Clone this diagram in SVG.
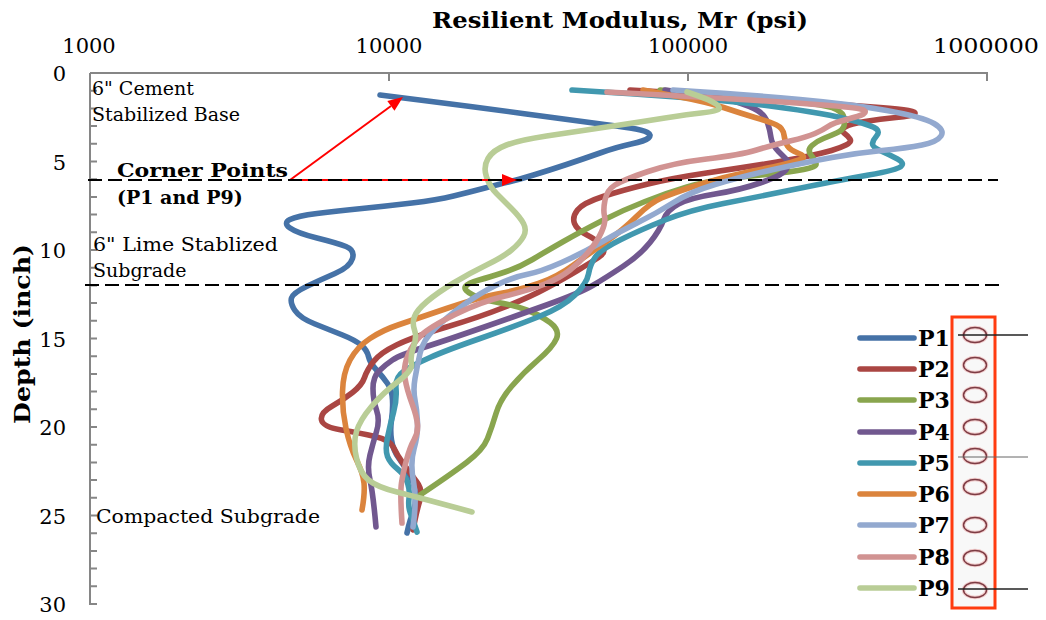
<svg xmlns="http://www.w3.org/2000/svg" width="1046" height="620" viewBox="0 0 1046 620">
<defs>
<style>
.ax{stroke:#868686;stroke-width:2;fill:none}
.tk{font-family:"DejaVu Serif","Liberation Serif",serif;font-size:21px;fill:#000}
.an{font-family:"DejaVu Serif","Liberation Serif",serif;font-size:19px;fill:#000}
.bd{font-family:"DejaVu Serif","Liberation Serif",serif;font-weight:bold;fill:#000}
.c{fill:none;stroke-width:5.6;stroke-linecap:round;stroke-linejoin:round}
.dash{stroke:#000;stroke-width:2;stroke-dasharray:14 6;fill:none}
.red{stroke:#ff0000;stroke-width:2;fill:none}
.head{fill:#ff0000}
.ell{fill:none;stroke:#7d3c44;stroke-width:1.4}
.glow{fill:none;stroke:#f0caca;stroke-width:3.5}
</style>
</defs>
<rect width="1046" height="620" fill="#fff"/>

<g id="axes">
<path class="ax" d="M90,73 H987 V81 M389,73 V81 M688,73 V81"/>
<path class="ax" d="M90,73 V604 H97"/>
<path class="ax" d="M90,73 H97 M90,90.7 H97 M90,108.4 H97 M90,126.1 H97 M90,143.8 H97 M90,161.5 H97 M90,179.2 H97 M90,196.9 H97 M90,214.6 H97 M90,232.3 H97 M90,250 H97 M90,267.7 H97 M90,285.4 H97 M90,303.1 H97 M90,320.8 H97 M90,338.5 H97 M90,356.2 H97 M90,373.9 H97 M90,391.6 H97 M90,409.3 H97 M90,427 H97 M90,444.7 H97 M90,462.4 H97 M90,480.1 H97 M90,497.8 H97 M90,515.5 H97 M90,533.2 H97 M90,550.9 H97 M90,568.6 H97 M90,586.3 H97"/>
<text class="tk" x="89" y="53" text-anchor="middle">1000</text>
<text class="tk" x="389" y="53" text-anchor="middle">10000</text>
<text class="tk" x="688" y="53" text-anchor="middle">100000</text>
<text class="tk" x="986" y="53" text-anchor="middle" textLength="106" lengthAdjust="spacingAndGlyphs">1000000</text>
<text class="tk" x="66" y="81" text-anchor="end">0</text>
<text class="tk" x="66" y="170" text-anchor="end">5</text>
<text class="tk" x="66" y="258" text-anchor="end">10</text>
<text class="tk" x="66" y="347" text-anchor="end">15</text>
<text class="tk" x="66" y="435" text-anchor="end">20</text>
<text class="tk" x="66" y="524" text-anchor="end">25</text>
<text class="tk" x="66" y="612" text-anchor="end">30</text>
<text class="bd" x="620" y="28" font-size="22.5" text-anchor="middle" textLength="376" lengthAdjust="spacingAndGlyphs">Resilient Modulus, Mr (psi)</text>
<text class="bd" transform="translate(30,334) rotate(-90)" x="0" y="0" font-size="22" text-anchor="middle" textLength="180" lengthAdjust="spacingAndGlyphs">Depth (inch)</text>
</g>

<g id="annotations">
<text class="an" x="92" y="95">6" Cement</text>
<text class="an" x="92" y="121">Stabilized Base</text>
<text class="an" x="93" y="251" textLength="185" lengthAdjust="spacingAndGlyphs">6" Lime Stablized</text>
<text class="an" x="93" y="277">Subgrade</text>
<text class="an" x="96" y="523" textLength="224" lengthAdjust="spacingAndGlyphs">Compacted Subgrade</text>
<text class="bd" x="117" y="177" font-size="19" textLength="171" lengthAdjust="spacingAndGlyphs">Corner Points</text>
<text class="bd" x="117" y="204" font-size="19">(P1 and P9)</text>
</g>

<g id="curves">
<path id="P1" class="c" stroke="#4572A7" d="M380,95 L427.5,101 Q475,107 522.5,113.5 Q570,120 593.5,123 Q617,126 630,128 Q643,130 647.5,132.5 Q652,135 648.5,138 Q645,141 631,144 Q617,147 600,153 Q583,159 566.5,164.5 Q550,170 533.5,175 Q517,180 508.5,182 Q500,184 485,188 Q470,192 453.5,196 Q437,200 412,203 Q387,206 362,208.5 Q337,211 317,213.5 Q297,216 290,219.5 Q283,223 290,228 Q297,233 317,238 Q337,243 346,246.5 Q355,250 352.5,258.5 Q350,267 335,273.5 Q320,280 306.5,286.5 Q293,293 291.5,298 Q290,303 295,310.5 Q300,318 315,324 Q330,330 342.5,335 Q355,340 361,345 Q367,350 368.5,356.5 Q370,363 376.5,370 Q383,377 387.5,383.5 Q392,390 392.5,400 Q393,410 391.5,420 Q390,430 391.5,440 Q393,450 399,458.5 Q405,467 410,476 Q415,485 415.5,495 Q416,505 413,512.5 Q410,520 408.5,526.5 L407,533"/>
<path id="P2" class="c" stroke="#AA4643" d="M630,90 L665,92 Q700,94 740,97 Q780,100 820,103 Q860,106 880,107.5 Q900,109 908.5,110.5 Q917,112 914.5,114 Q912,116 896,117.5 Q880,119 865,121.5 Q850,124 845,127 Q840,130 844,133 Q848,136 850,139 Q852,142 846,145 Q840,148 831.5,150.5 Q823,153 806.5,156.5 Q790,160 765,164 Q740,168 706.5,173 Q673,178 648,184 Q623,190 603,196.5 Q583,203 577.5,210 Q572,217 574.5,223.5 Q577,230 587,235 Q597,240 602,246 Q607,252 598.5,257.5 Q590,263 577.5,270.5 Q565,278 547.5,287.5 Q530,297 505,307 Q480,317 446.5,327 Q413,337 396.5,345 Q380,353 373.5,361.5 Q367,370 364.5,377.5 Q362,385 352.5,392.5 Q343,400 331.5,406.5 Q320,413 321.5,420 Q323,427 341.5,430 Q360,433 375,436.5 Q390,440 393.5,447.5 Q397,455 403.5,464 Q410,473 416.5,481.5 Q423,490 420,500 Q417,510 415,520 L413,530"/>
<path id="P3" class="c" stroke="#89A54E" d="M660,90 L690,92.5 Q720,95 755,98 Q790,101 810,103.5 Q830,106 836.5,109.5 Q843,113 844,117.5 Q845,122 844,126 Q843,130 836.5,133 Q830,136 823.5,138.5 Q817,141 812,145.5 Q807,150 811,155 Q815,160 816,163.5 Q817,167 803.5,169.5 Q790,172 770,174 Q750,176 728.5,178.5 Q707,181 687,187 Q667,193 645,201.5 Q623,210 601.5,221 Q580,232 562.5,242 Q545,252 532.5,259.5 Q520,267 505,272 Q490,277 479,280 Q468,283 465.5,286.5 Q463,290 473,295 Q483,300 498,302.5 Q513,305 526.5,310 Q540,315 550,322.5 Q560,330 556.5,338.5 Q553,347 538,360 Q523,373 511.5,386.5 Q500,400 496,413.5 Q492,427 487.5,438.5 Q483,450 466.5,462.5 Q450,475 417,497"/>
<path id="P4" class="c" stroke="#71588F" d="M665,90 L692.5,93.5 Q720,97 735,101.5 Q750,106 757.5,110.5 Q765,115 767.5,122.5 Q770,130 771,137.5 Q772,145 778.5,151.5 Q785,158 787.5,160.5 Q790,163 786.5,169 Q783,175 761.5,182.5 Q740,190 715,194 Q690,198 678.5,204 Q667,210 663.5,220 Q660,230 650,242.5 Q640,255 623.5,266 Q607,277 593.5,285 Q580,293 546.5,305 Q513,317 480,328.5 Q447,340 423.5,347.5 Q400,355 392.5,360 Q385,365 379,371 Q373,377 373,388.5 Q373,400 376.5,410 Q380,420 376.5,431.5 Q373,443 370,455 Q367,467 370,480 Q373,493 376,527"/>
<path id="P5" class="c" stroke="#4198AF" d="M572,90 L611,92.5 Q650,95 695,98.5 Q740,102 770,106 Q800,110 820,113.5 Q840,117 856.5,121.5 Q873,126 876.5,129 Q880,132 876.5,136 Q873,140 872.5,143.5 Q872,147 881,151 Q890,155 897.5,159 Q905,163 901,166.5 Q897,170 868.5,175 Q840,180 798.5,188.5 Q757,197 723.5,203.5 Q690,210 665,220 Q640,230 620,240 Q600,250 595,257.5 Q590,265 588.5,274 Q587,283 575,295 Q563,307 538,317 Q513,327 480,338.5 Q447,350 430,357.5 Q413,365 404,371 Q395,377 396,388.5 Q397,400 393.5,412.5 Q390,425 387.5,437.5 Q385,450 387.5,456.5 Q390,463 397.5,469 Q405,475 407.5,482.5 Q410,490 409,498.5 Q408,507 410.5,513.5 Q413,520 417,532"/>
<path id="P6" class="c" stroke="#DB843D" d="M643,90 L675,96 Q707,102 723.5,107.5 Q740,113 755,117.5 Q770,122 776.5,125 Q783,128 784,135 Q785,142 787.5,146 Q790,150 799,153.5 Q808,157 799,160 Q790,163 781.5,165 Q773,167 748,172 Q723,177 698,185 Q673,193 661.5,198 Q650,203 636.5,216.5 Q623,230 606.5,241.5 Q590,253 573.5,265 Q557,277 538.5,283.5 Q520,290 500,293.5 Q480,297 446.5,308.5 Q413,320 398,325 Q383,330 370,338.5 Q357,347 350,360 Q343,373 342.5,391.5 Q342,410 346,428.5 Q350,447 356.5,460 Q363,473 364,483 Q365,493 362,510"/>
<path id="P7" class="c" stroke="#93A9CF" d="M673,90 L711.5,92.5 Q750,95 800,99.5 Q850,104 886.5,110.5 Q923,117 934,123.5 Q945,130 941,136 Q937,142 922,145 Q907,148 882,150.5 Q857,153 832,157.5 Q807,162 773.5,169.5 Q740,177 715,184.5 Q690,192 673.5,202.5 Q657,213 637,223 Q617,233 600,243 Q583,253 561.5,262.5 Q540,272 526.5,274.5 Q513,277 496.5,285 Q480,293 463.5,305 Q447,317 435,328.5 Q423,340 420,353.5 Q417,367 415,378.5 Q413,390 415,400 Q417,410 417.5,422.5 Q418,435 414,449 Q410,463 413.5,481.5 Q417,500 413,527"/>
<path id="P8" class="c" stroke="#D19392" d="M607,92 L653.5,94.5 Q700,97 750,100 Q800,103 830,105.5 Q860,108 863.5,110 Q867,112 863.5,114 Q860,116 846.5,119.5 Q833,123 828,126.5 Q823,130 815,133.5 Q807,137 790,141 Q773,145 756.5,150 Q740,155 706.5,159 Q673,163 648,171.5 Q623,180 615,185 Q607,190 605,200 Q603,210 604.5,216 Q606,222 601.5,232 Q597,242 588.5,252 Q580,262 570,270 Q560,278 545,284 Q530,290 505,296 Q480,302 455,314.5 Q430,327 421.5,335 Q413,343 408,355 Q403,367 405,378.5 Q407,390 412,403.5 Q417,417 417.5,425 Q418,433 414,440 Q410,447 406.5,460 Q403,473 401.5,483 Q400,493 402,523"/>
<path id="P9" class="c" stroke="#B9CD96" d="M687,92 L698.5,96 Q710,100 716,104 Q722,108 717,110 Q712,112 701,113 Q690,114 665,118 Q640,122 606.5,127 Q573,132 546.5,136 Q520,140 506.5,145 Q493,150 488,158.5 Q483,167 486.5,177 Q490,187 496.5,193.5 Q503,200 511.5,208.5 Q520,217 523.5,223.5 Q527,230 523.5,236.5 Q520,243 511.5,250 Q503,257 486.5,265 Q470,273 453.5,283 Q437,293 427,301.5 Q417,310 414.5,316.5 Q412,323 414.5,330 Q417,337 413.5,347 Q410,357 411.5,363.5 Q413,370 398,381.5 Q383,393 371.5,406.5 Q360,420 356.5,431.5 Q353,443 356.5,458 Q360,473 368.5,480 Q377,487 397,492 Q417,497 472,512"/>
</g>

<g id="connectors">
<path class="red" d="M290,180 L391,106"/>
<path class="red" d="M290,180 L503,180"/>
<path class="dash" d="M88,180 H998"/>
<path class="dash" d="M85,285 H1003"/>
<polygon class="head" points="403,97 394.5,110.7 387.3,101.1"/>
<polygon class="head" points="517,180 502,174 502,186"/>
</g>

<g id="legend">
<path class="c" stroke="#4572A7" d="M860,338 H914"/>
<path class="c" stroke="#AA4643" d="M860,369 H914"/>
<path class="c" stroke="#89A54E" d="M860,400 H914"/>
<path class="c" stroke="#71588F" d="M860,432 H914"/>
<path class="c" stroke="#4198AF" d="M860,463 H914"/>
<path class="c" stroke="#DB843D" d="M860,494 H914"/>
<path class="c" stroke="#93A9CF" d="M860,525 H914"/>
<path class="c" stroke="#D19392" d="M860,557 H914"/>
<path class="c" stroke="#B9CD96" d="M860,588 H914"/>
<text class="bd" font-size="22" x="918" y="346">P1</text>
<text class="bd" font-size="22" x="918" y="377">P2</text>
<text class="bd" font-size="22" x="918" y="408">P3</text>
<text class="bd" font-size="22" x="918" y="440">P4</text>
<text class="bd" font-size="22" x="918" y="471">P5</text>
<text class="bd" font-size="22" x="918" y="502">P6</text>
<text class="bd" font-size="22" x="918" y="533">P7</text>
<text class="bd" font-size="22" x="918" y="565">P8</text>
<text class="bd" font-size="22" x="918" y="596">P9</text>
</g>

<g id="plan">
<rect x="952" y="317" width="43" height="291" fill="#f8f8f8" stroke="#ff3b0f" stroke-width="3"/>
<g>
<ellipse class="glow" cx="975" cy="335" rx="11.5" ry="7.5"/><ellipse class="ell" cx="975" cy="335" rx="11.5" ry="7.5"/>
<ellipse class="glow" cx="975" cy="365" rx="11.5" ry="7.5"/><ellipse class="ell" cx="975" cy="365" rx="11.5" ry="7.5"/>
<ellipse class="glow" cx="975" cy="395" rx="11.5" ry="7.5"/><ellipse class="ell" cx="975" cy="395" rx="11.5" ry="7.5"/>
<ellipse class="glow" cx="975" cy="427" rx="11.5" ry="7.5"/><ellipse class="ell" cx="975" cy="427" rx="11.5" ry="7.5"/>
<ellipse class="glow" cx="975" cy="456" rx="11.5" ry="7.5"/><ellipse class="ell" cx="975" cy="456" rx="11.5" ry="7.5"/>
<ellipse class="glow" cx="975" cy="487" rx="11.5" ry="7.5"/><ellipse class="ell" cx="975" cy="487" rx="11.5" ry="7.5"/>
<ellipse class="glow" cx="975" cy="525" rx="11.5" ry="7.5"/><ellipse class="ell" cx="975" cy="525" rx="11.5" ry="7.5"/>
<ellipse class="glow" cx="975" cy="558" rx="11.5" ry="7.5"/><ellipse class="ell" cx="975" cy="558" rx="11.5" ry="7.5"/>
<ellipse class="glow" cx="975" cy="590" rx="11.5" ry="7.5"/><ellipse class="ell" cx="975" cy="590" rx="11.5" ry="7.5"/>
</g>
<path d="M958,335 H1028" stroke="#222" stroke-width="1.5"/>
<path d="M958,457 H1028" stroke="#666" stroke-width="1"/>
<path d="M958,589 H1028" stroke="#222" stroke-width="1.5"/>
</g>
</svg>
